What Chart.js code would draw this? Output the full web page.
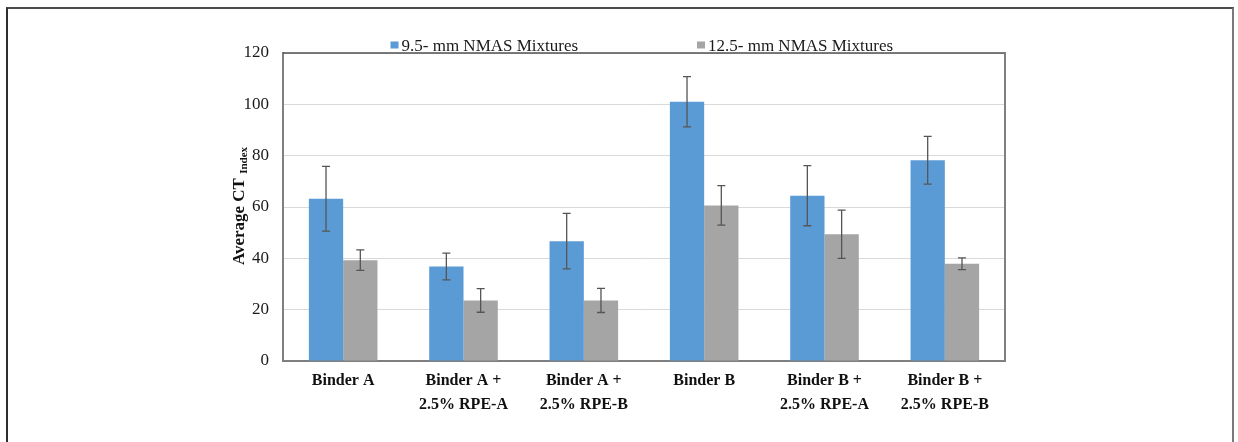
<!DOCTYPE html>
<html>
<head>
<meta charset="utf-8">
<script src="https://cdn.jsdelivr.net/npm/chart.js@4.4.1/dist/chart.umd.min.js"></script>
<style>
  html, body { margin: 0; padding: 0; background: #ffffff; }
  #wrap { position: relative; width: 1238px; height: 442px; overflow: hidden; }
  #frame {
    position: absolute; left: 6px; top: 7px; width: 1224px; height: 460px;
    border-left: 2px solid #2e2e2e; border-top: 2px solid #4a4a4a; border-right: 2px solid #7a7a7a;
    pointer-events: none;
  }
  canvas { position: absolute; left: 0; top: 0; }
</style>
</head>
<body>
<div id="wrap">
  <canvas id="c" width="1238" height="442"></canvas>
  <div id="frame"></div>
</div>
<script>
// Mixture groups along the x axis (multi-line labels)
const categories = [
  ["Binder A"],
  ["Binder A +", "2.5% RPE-A"],
  ["Binder A +", "2.5% RPE-B"],
  ["Binder B"],
  ["Binder B +", "2.5% RPE-A"],
  ["Binder B +", "2.5% RPE-B"]
];

// Average CT Index per group
const nmas95 = [63.2, 36.8, 46.7, 101.0, 64.4, 78.2];
const nmas125 = [39.3, 23.6, 23.6, 60.6, 49.4, 37.9];

// Error bar half-widths (± one standard deviation)
const err95 = [12.6, 5.2, 10.8, 9.8, 11.7, 9.3];
const err125 = [4.0, 4.6, 4.7, 7.7, 9.4, 2.3];

const seriesLabels = ["9.5- mm NMAS Mixtures", "12.5- mm NMAS Mixtures"];
const seriesColors = ["#5b9bd5", "#a5a5a5"];

const yMin = 0, yMax = 120, yStep = 20;

const serif = "'Liberation Serif', 'Times New Roman', serif";

// Error bars with end caps, positioned from the bar elements and the y scale
const errorBars = {
  id: 'errorBars',
  afterDatasetsDraw(chart) {
    const ctx = chart.ctx;
    const y = chart.scales.y;
    const errs = [err95, err125];
    ctx.save();
    ctx.strokeStyle = '#555555';
    ctx.lineWidth = 1.3;
    chart.data.datasets.forEach((ds, di) => {
      const meta = chart.getDatasetMeta(di);
      meta.data.forEach((bar, i) => {
        const v = ds.data[i], e = errs[di][i];
        const x = bar.x;
        const yt = y.getPixelForValue(v + e);
        const yb = y.getPixelForValue(v - e);
        const cap = 4;
        ctx.beginPath();
        ctx.moveTo(x, yt); ctx.lineTo(x, yb);
        ctx.moveTo(x - cap, yt); ctx.lineTo(x + cap, yt);
        ctx.moveTo(x - cap, yb); ctx.lineTo(x + cap, yb);
        ctx.stroke();
      });
    });
    ctx.restore();
  }
};

// Top and right edges of the plot box
const plotBox = {
  id: 'plotBox',
  afterDraw(chart) {
    const { ctx, chartArea: a } = chart;
    ctx.save();
    ctx.lineWidth = 1.5;
    ctx.strokeStyle = '#505050';
    ctx.beginPath(); ctx.moveTo(a.left, a.top); ctx.lineTo(a.right + 1, a.top); ctx.stroke();
    ctx.lineWidth = 2;
    ctx.strokeStyle = '#808080';
    ctx.beginPath(); ctx.moveTo(a.right, a.top); ctx.lineTo(a.right, a.bottom + 1); ctx.stroke();
    ctx.restore();
  }
};

// Legend row above the plot: square swatch followed by the series name
const topLegend = {
  id: 'topLegend',
  afterDraw(chart, args, opts) {
    const ctx = chart.ctx;
    ctx.save();
    ctx.font = '17px ' + serif;
    ctx.textBaseline = 'alphabetic';
    ctx.textAlign = 'left';
    chart.data.datasets.forEach((ds, i) => {
      const x = opts.starts[i];
      ctx.fillStyle = ds.backgroundColor;
      ctx.fillRect(x, opts.y - 9.5, 8, 7);
      ctx.fillStyle = '#1a1a1a';
      ctx.fillText(ds.label, x + 11, opts.y);
    });
    ctx.restore();
  }
};

// Rotated y-axis title with subscript "Index"
const yTitle = {
  id: 'yTitle',
  afterDraw(chart, args, opts) {
    const ctx = chart.ctx;
    const main = 'Average CT';
    const sub = 'Index';
    ctx.save();
    ctx.fillStyle = '#111111';
    ctx.font = 'bold 17px ' + serif;
    const wMain = ctx.measureText(main + ' ').width;
    ctx.font = 'bold 11px ' + serif;
    const wSub = ctx.measureText(sub).width;
    const total = wMain + wSub;
    ctx.translate(opts.x, opts.y);
    ctx.rotate(-Math.PI / 2);
    ctx.textBaseline = 'alphabetic';
    ctx.textAlign = 'left';
    ctx.font = 'bold 17px ' + serif;
    ctx.fillText(main, -total / 2, 0);
    ctx.font = 'bold 11px ' + serif;
    ctx.fillText(sub, -total / 2 + wMain, 2.5);
    ctx.restore();
  }
};

new Chart(document.getElementById('c'), {
  type: 'bar',
  data: {
    labels: categories,
    datasets: [
      { label: seriesLabels[0], data: nmas95, backgroundColor: seriesColors[0] },
      { label: seriesLabels[1], data: nmas125, backgroundColor: seriesColors[1] }
    ]
  },
  options: {
    responsive: false,
    animation: false,
    devicePixelRatio: 1,
    layout: { padding: { left: 233, right: 233, top: 53, bottom: 0 } },
    datasets: { bar: { categoryPercentage: 0.57, barPercentage: 1.0, borderWidth: 0 } },
    plugins: {
      legend: { display: false },
      tooltip: { enabled: false },
      topLegend: { starts: [390.5, 697], y: 51 },
      yTitle: { x: 244, y: 206 }
    },
    scales: {
      x: {
        offset: true,
        grid: { display: false, drawTicks: false },
        border: { display: true, color: '#7f7f7f', width: 2 },
        ticks: {
          color: '#111111',
          padding: 8,
          maxRotation: 0,
          autoSkip: false,
          font: { family: serif, size: 16, weight: 'bold', lineHeight: 1.5 }
        },
        afterFit(s) { s.height = 81; }
      },
      y: {
        min: yMin,
        max: yMax,
        grid: { color: '#d9d9d9', lineWidth: 1, drawTicks: false },
        border: { display: true, color: '#7f7f7f', width: 2 },
        ticks: {
          stepSize: yStep,
          color: '#1a1a1a',
          padding: 14,
          font: { family: serif, size: 17 }
        },
        afterFit(s) { s.width = 50; }
      }
    }
  },
  plugins: [errorBars, plotBox, topLegend, yTitle]
});
</script>
</body>
</html>
